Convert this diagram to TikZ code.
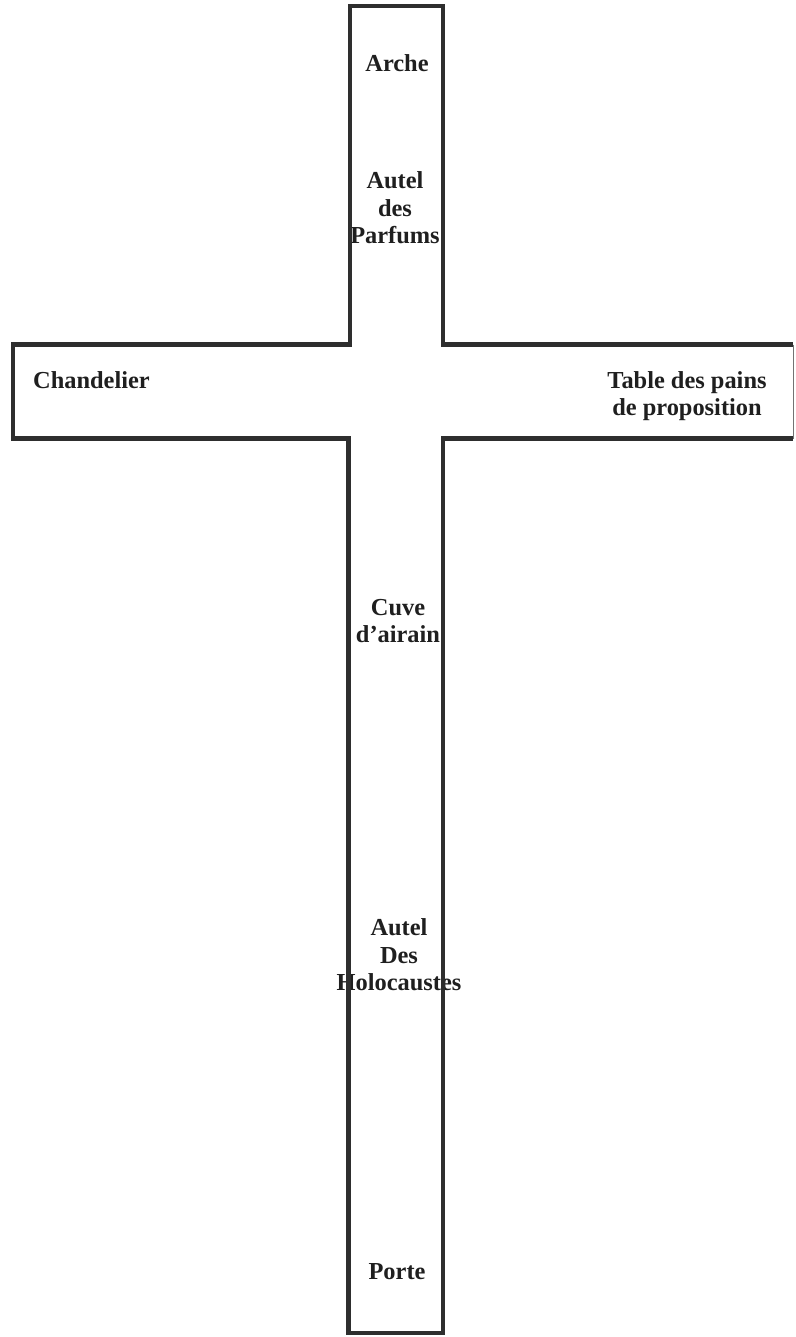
\documentclass[tikz,border=0pt]{standalone}
\usepackage{fontspec}
\setmainfont{Liberation Serif}
\begin{document}
\begin{tikzpicture}[x=1pt,y=-1pt,
  lbl/.style={font=\bfseries\fontsize{24.4}{27.5}\selectfont, text=black!88, align=center, inner sep=0pt},
  edge/.style={draw=black!82, line width=4.5pt, line join=miter}]
\useasboundingbox (0,0) rectangle (795,1337);
\fill[white] (0,0) rectangle (795,1337);
% labels
\node[lbl] (arche) at (397,63) {Arche};
\node[lbl] (parfums) at (395,208) {Autel\\des\\Parfums};
\node[lbl, anchor=west] (chand) at (33,380) {Chandelier};
\node[lbl] (table) at (687,396) {Table des pains\\de proposition};
\node[lbl] (cuve) at (398,621) {Cuve\\d’airain};
\node[lbl] (holo) at (399,955) {Autel\\Des\\Holocaustes};
\node[lbl] (porte) at (397,1272) {Porte};
% cross outline
\draw[edge] (793,344.5) -- (443,344.5) -- (443,6) -- (350,6) -- (350,344.5) -- (13,344.5)
  -- (13,438.5) -- (348.5,438.5) -- (348.5,1333) -- (443,1333) -- (443,438.5) -- (793,438.5);
\draw[draw=black!55, line width=1.2pt] (793.5,344.5) -- (793.5,438.5);
\end{tikzpicture}
\end{document}
